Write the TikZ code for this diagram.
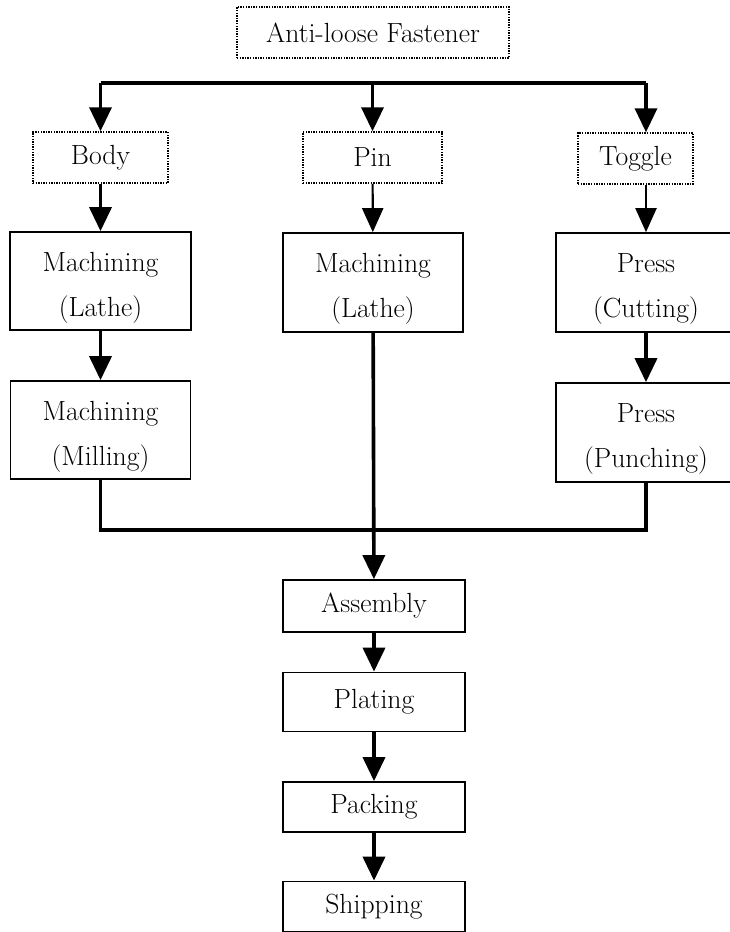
\documentclass[tikz,border=0pt]{standalone}
\usepackage{tikz}
\usetikzlibrary{arrows.meta,positioning}
\tikzset{
  part/.style={draw, line width=1.5pt, dash pattern=on 1.4pt off 1.2pt, minimum width=#1, minimum height=51pt, inner sep=0pt},
  proc/.style={draw, line width=1.7pt, minimum width=#1, align=center, inner sep=0pt},
  twoline/.style={minimum height=#1, text height=77pt, text depth=7pt},
  flow/.style={-{Triangle[width=22pt,length=24pt]}, line width=3.6pt},
  thinflow/.style={-{Triangle[width=21pt,length=24pt]}, line width=2.2pt},
  bus/.style={line width=3.2pt},
}

\begin{document}
\begin{tikzpicture}[x=1pt, y=-1pt, font=\fontsize{27.7}{45}\selectfont]
  \useasboundingbox (0,0) rectangle (729,932);
  % parts
  \node[part=272pt] (fastener) at (373,32.5) {Anti-loose Fastener};
  \node[part=135pt] (body) at (100.5,157.5) {Body};
  \node[part=139pt] (pin) at (372.5,157.5) {Pin};
  \node[part=115pt] (toggle) at (635.5,158.5) {Toggle};
  % processes
  \node[proc=181pt, twoline=98pt] (bodyLathe) at (100.5,281) {Machining\\(Lathe)};
  \node[proc=180pt, twoline=98pt] (bodyMill) at (100.5,430) {Machining\\(Milling)};
  \node[proc=180pt, twoline=99pt] (pinLathe) at (373,282.5) {Machining\\(Lathe)};
  \node[proc=180pt, twoline=99pt] (toggleCut) at (646,282.5) {Press\\(Cutting)};
  \node[proc=180pt, twoline=99pt] (togglePunch) at (646,432.5) {Press\\(Punching)};
  \node[proc=182pt, minimum height=52pt] (assembly) at (374,606) {Assembly};
  \node[proc=182pt, minimum height=59pt] (plating) at (374,702) {Plating};
  \node[proc=182pt, minimum height=50pt] (packing) at (374,807) {Packing};
  \node[proc=182pt, minimum height=50pt] (shipping) at (374,906.5) {Shipping};
  % branch and join
  \coordinate (busL) at (100.5,83);
  \coordinate (busR) at (646,83);
  \coordinate (join) at (373,530);
  \draw[bus] (busL) -- (busR);
  \draw[flow] (busL) -- (body);
  \draw[flow] (pin.north |- busL) -- (pin);
  \draw[flow] (busR) -- (toggle.north -| busR);
  \draw[flow] (body) -- (bodyLathe);
  \draw[thinflow] (pin) -- (pinLathe);
  \draw[thinflow] (toggleCut.north |- toggle.south) -- (toggleCut);
  \draw[flow] (bodyLathe) -- (bodyMill);
  \draw[flow] (toggleCut) -- (togglePunch);
  \draw[bus] (bodyMill.south) |- (join) -| (togglePunch.south);
  \draw[flow] (pinLathe) -- (assembly);
  \draw[flow] (assembly) -- (plating);
  \draw[flow] (plating) -- (packing);
  \draw[flow] (packing) -- (shipping);
\end{tikzpicture}
\end{document}
